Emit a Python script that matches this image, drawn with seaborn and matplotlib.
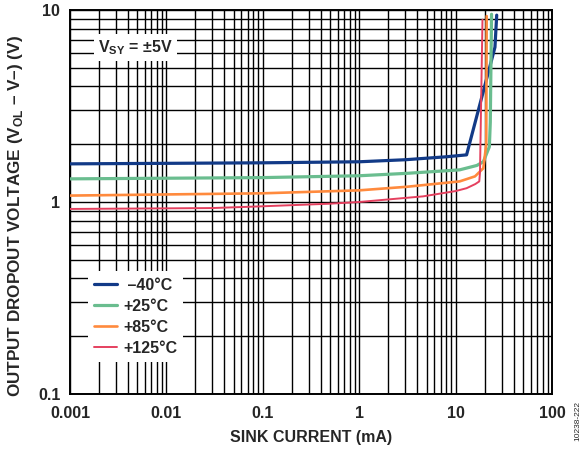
import numpy as np
import pandas as pd
import matplotlib
matplotlib.use('Agg')
import matplotlib.pyplot as plt
import seaborn as sns
from matplotlib.ticker import LogLocator, NullFormatter, FixedLocator, FixedFormatter

# sink current (mA) / dropout voltage (V)
x_m40 = [0.001, 0.01, 0.1, 1.0, 3.0, 8.0, 13.0, 25.6, 26.7]
y_m40 = [1.58, 1.59, 1.60, 1.62, 1.66, 1.72, 1.76, 6.4, 9.4]

x_p25 = [0.001, 0.1, 1.0, 3.1, 11.0, 16.6, 19.4, 22.4, 22.9, 23.6]
y_p25 = [1.32, 1.34, 1.37, 1.41, 1.47, 1.55, 1.62, 1.94, 2.6, 9.5]

x_p85 = [0.001, 0.1, 1.0, 3.1, 11.0, 15.9, 19.4, 20.8, 21.0]
y_p85 = [1.08, 1.11, 1.15, 1.20, 1.28, 1.36, 1.50, 2.0, 9.3]

x_p125 = [0.001, 0.03, 0.1, 0.5, 1.0, 4.6, 10.0, 13.0, 16.0, 17.6, 17.9, 19.0]
y_p125 = [0.92, 0.93, 0.95, 0.98, 1.00, 1.07, 1.14, 1.18, 1.24, 1.28, 1.42, 8.9]

labels = [' \u201340°C', '+25°C', '+85°C', '+125°C']
colors = ['#123A87', '#6ABD8F', '#FF8A3D', '#E5405F']
widths = [2.3, 2.3, 1.9, 1.4]

x_ticks = [0.001, 0.01, 0.1, 1, 10, 100]
x_ticklabels = ['0.001', '0.01', '0.1', '1', '10', '100']
y_ticks = [0.1, 1, 10]
y_ticklabels = ['0.1', '1', '10']

sns.set_style('white')
plt.rcParams['font.family'] = ['Liberation Sans', 'DejaVu Sans']
plt.rcParams['mathtext.fontset'] = 'custom'
plt.rcParams['mathtext.rm'] = 'Liberation Sans:bold'
plt.rcParams['mathtext.bf'] = 'Liberation Sans:bold'

fig = plt.figure(figsize=(5.83, 4.5), dpi=100)
ax = fig.add_axes([70 / 583, 1 - 394 / 450, 482 / 583, 384 / 450])

series = [(x_m40, y_m40), (x_p25, y_p25), (x_p85, y_p85), (x_p125, y_p125)]
for (xs, ys), lab, col, lw in zip(series, labels, colors, widths):
    df = pd.DataFrame({'current': xs, 'voltage': ys})
    sns.lineplot(data=df, x='current', y='voltage', ax=ax, sort=False,
                 estimator=None, color=col, lw=lw, label=lab, zorder=3)

ax.set_xscale('log')
ax.set_yscale('log')
ax.set_xlim(0.001, 100)
ax.set_ylim(0.1, 10)

ax.xaxis.set_major_locator(FixedLocator(x_ticks))
ax.xaxis.set_major_formatter(FixedFormatter(x_ticklabels))
ax.yaxis.set_major_locator(FixedLocator(y_ticks))
ax.yaxis.set_major_formatter(FixedFormatter(y_ticklabels))
ax.xaxis.set_minor_locator(LogLocator(base=10, subs=np.arange(2, 10), numticks=20))
ax.yaxis.set_minor_locator(LogLocator(base=10, subs=np.arange(2, 10), numticks=20))
ax.xaxis.set_minor_formatter(NullFormatter())
ax.yaxis.set_minor_formatter(NullFormatter())

ax.grid(which='both', color='black', lw=1.0, zorder=1)
ax.set_axisbelow(True)
ax.tick_params(which='both', length=0)
ax.tick_params(axis='x', pad=9, labelsize=11.5)
ax.tick_params(axis='y', pad=7, labelsize=11.5)
for lbl in ax.get_xticklabels() + ax.get_yticklabels():
    lbl.set_fontweight('bold')
for sp in ax.spines.values():
    sp.set_color('black')
    sp.set_linewidth(1.4)

ax.set_xlabel('SINK CURRENT (mA)', fontsize=11.5, fontweight='bold')
ax.xaxis.set_label_coords(0.5, -0.094)
ax.set_ylabel('OUTPUT DROPOUT VOLTAGE (V$_{\\rm OL}$ \u2013 V\u2013) (V)',
              fontsize=12.3, fontweight='bold')
ax.yaxis.set_label_coords(-0.093, 0.464)

ax.text(0.135, 0.903, 'V$_{\\rm SY}$ = ±5V', transform=ax.transAxes,
        fontsize=11.5, fontweight='bold', ha='center', va='center', zorder=4,
        bbox=dict(facecolor='white', edgecolor='none', pad=3))

leg = ax.legend(loc='lower left', bbox_to_anchor=(0.037, 0.083), frameon=True,
                fancybox=False, framealpha=1, edgecolor='none', facecolor='white',
                handlelength=1.4, handletextpad=0.4, labelspacing=0.38,
                borderpad=0.4, borderaxespad=0,
                prop={'weight': 'bold', 'size': 11.5})
leg.set_zorder(5)

fig.text(578 / 583, 1 - 421 / 450, '10238-222', rotation=90, fontsize=6,
         ha='center', va='center')

fig.savefig('out.png', dpi=100)
plt.close(fig)
